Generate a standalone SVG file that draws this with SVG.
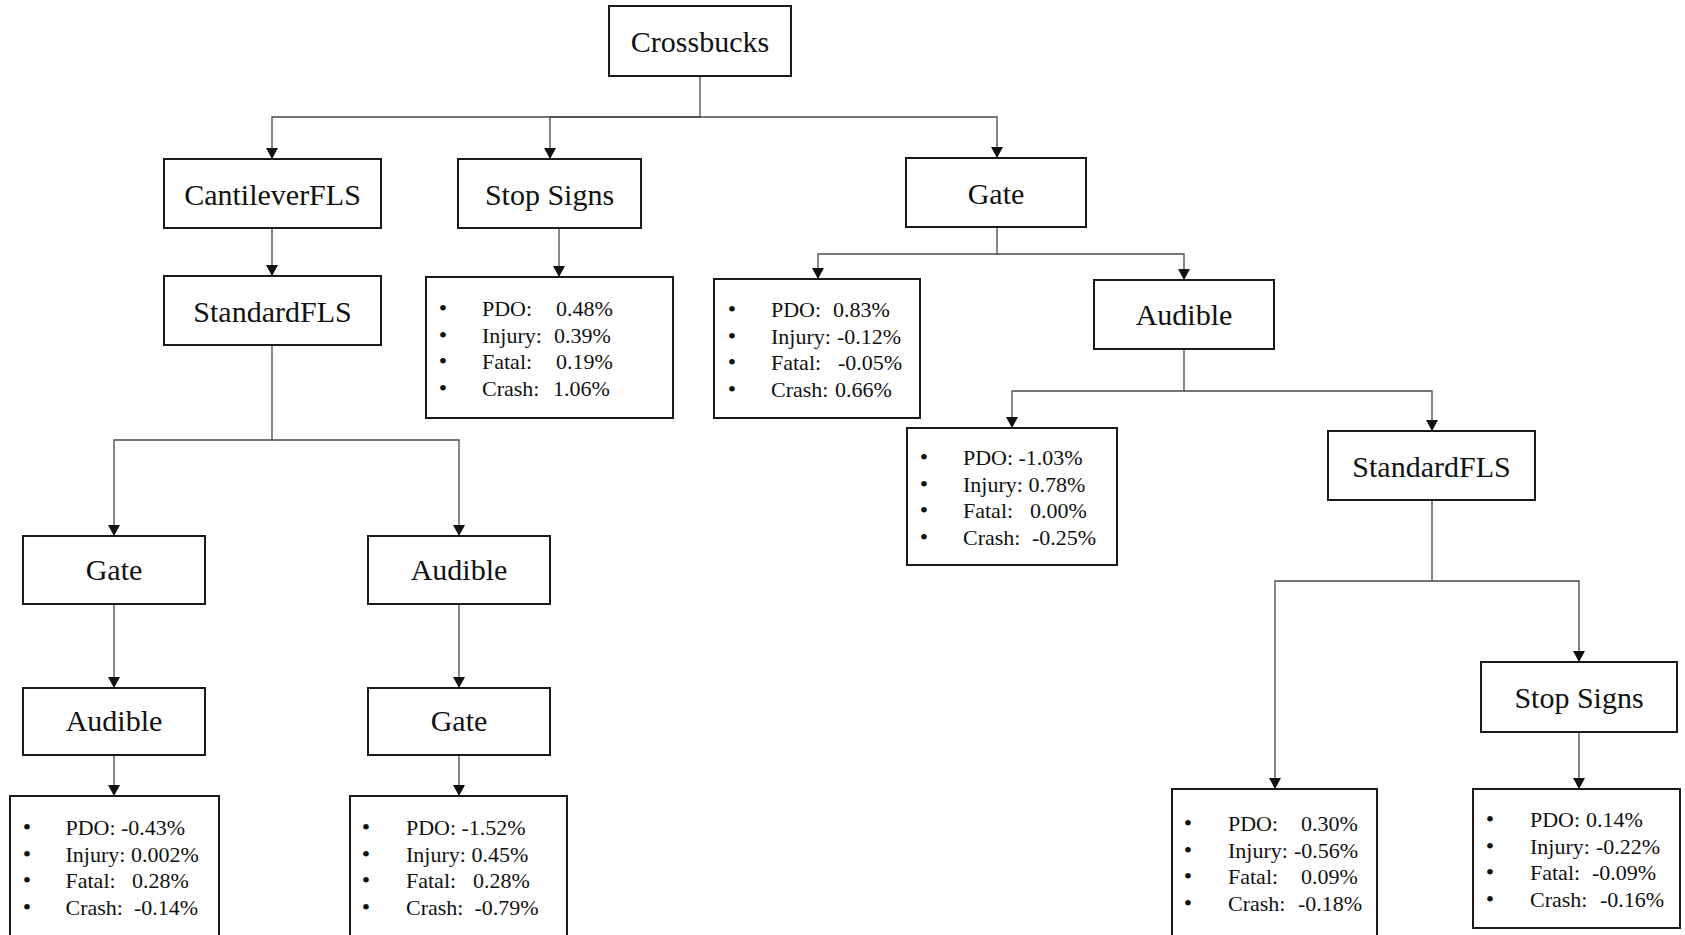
<svg xmlns="http://www.w3.org/2000/svg" width="1685" height="935" viewBox="0 0 1685 935">
<style>
.box{fill:#fff;stroke:#1a1a1a;stroke-width:2}
.lbl{font-family:'Liberation Serif','Times New Roman',serif;font-size:30px;text-anchor:middle;fill:#111}
.st{font-family:'Liberation Serif','Times New Roman',serif;font-size:22px;fill:#111}
.bul{font-family:'Liberation Serif','Times New Roman',serif;font-size:24px;text-anchor:middle;fill:#111}
.conn{fill:none;stroke:#4a4a4a;stroke-width:1.3}
</style>
<defs>
<marker id="arr" markerUnits="userSpaceOnUse" viewBox="0 0 11 12" refX="11" refY="6" markerWidth="11" markerHeight="12" orient="auto">
<path d="M0,0 L11,6 L0,12 Z" fill="#111"/>
</marker>
</defs>
<rect width="1685" height="935" fill="#fff"/>
<g id="connectors" class="conn" marker-end="url(#arr)">
<path d="M700,76 V117 H272 V159"/>
<path d="M700,117 H550 V159"/>
<path d="M700,117 H997 V158"/>
<path d="M272,228 V276"/>
<path d="M559,228 V277"/>
<path d="M997,227 V254 H818 V279"/>
<path d="M997,254 H1184 V280"/>
<path d="M1184,349 V391 H1012 V428"/>
<path d="M1184,391 H1432 V431"/>
<path d="M1432,500 V581 H1275 V789"/>
<path d="M1432,581 H1579 V662"/>
<path d="M1579,732 V789"/>
<path d="M272,345 V440 H114 V536"/>
<path d="M272,440 H459 V536"/>
<path d="M114,604 V688"/>
<path d="M459,604 V688"/>
<path d="M114,755 V796"/>
<path d="M459,755 V796"/>
</g>
<g id="crossbucks"><rect class="box" x="609" y="6" width="182" height="70"/><text class="lbl" x="700" y="52">Crossbucks</text></g>
<g id="cantilever"><rect class="box" x="164" y="159" width="217" height="69"/><text class="lbl" x="272.5" y="205">CantileverFLS</text></g>
<g id="stopsigns1"><rect class="box" x="458" y="159" width="183" height="69"/><text class="lbl" x="549.5" y="205">Stop Signs</text></g>
<g id="gate1"><rect class="box" x="906" y="158" width="180" height="69"/><text class="lbl" x="996" y="204">Gate</text></g>
<g id="standardfls1"><rect class="box" x="164" y="276" width="217" height="69"/><text class="lbl" x="272.5" y="322">StandardFLS</text></g>
<g id="audible1"><rect class="box" x="1094" y="280" width="180" height="69"/><text class="lbl" x="1184" y="325">Audible</text></g>
<g id="standardfls2"><rect class="box" x="1328" y="431" width="207" height="69"/><text class="lbl" x="1431.5" y="477">StandardFLS</text></g>
<g id="stopsigns2"><rect class="box" x="1481" y="662" width="196" height="70"/><text class="lbl" x="1579" y="708">Stop Signs</text></g>
<g id="gate2"><rect class="box" x="23" y="536" width="182" height="68"/><text class="lbl" x="114" y="580">Gate</text></g>
<g id="audible2"><rect class="box" x="368" y="536" width="182" height="68"/><text class="lbl" x="459" y="580">Audible</text></g>
<g id="audible3"><rect class="box" x="23" y="688" width="182" height="67"/><text class="lbl" x="114" y="731">Audible</text></g>
<g id="gate3"><rect class="box" x="368" y="688" width="182" height="67"/><text class="lbl" x="459" y="731">Gate</text></g>

<g id="stats-stopsigns1"><rect class="box" x="426" y="277" width="247" height="141"/>
<text class="bul" x="443" y="316">•</text><text class="bul" x="443" y="342.5">•</text><text class="bul" x="443" y="369">•</text><text class="bul" x="443" y="395.5">•</text>
<text class="st" x="482" y="316">PDO: <tspan x="556">0.48%</tspan></text>
<text class="st" x="482" y="342.5">Injury: <tspan x="554">0.39%</tspan></text>
<text class="st" x="482" y="369">Fatal: <tspan x="556">0.19%</tspan></text>
<text class="st" x="482" y="395.5">Crash: <tspan x="553">1.06%</tspan></text>
</g>
<g id="stats-gate1"><rect class="box" x="714" y="279" width="206" height="139"/>
<text class="bul" x="732" y="317">•</text><text class="bul" x="732" y="343.5">•</text><text class="bul" x="732" y="370">•</text><text class="bul" x="732" y="396.5">•</text>
<text class="st" x="771" y="317">PDO: <tspan x="833">0.83%</tspan></text>
<text class="st" x="771" y="343.5">Injury: <tspan x="837">-0.12%</tspan></text>
<text class="st" x="771" y="370">Fatal: <tspan x="838">-0.05%</tspan></text>
<text class="st" x="771" y="396.5">Crash: <tspan x="835">0.66%</tspan></text>
</g>
<g id="stats-audible1"><rect class="box" x="907" y="428" width="210" height="137"/>
<text class="bul" x="924" y="465">•</text><text class="bul" x="924" y="491.5">•</text><text class="bul" x="924" y="518">•</text><text class="bul" x="924" y="544.5">•</text>
<text class="st" x="963" y="465">PDO: <tspan x="1018.5">-1.03%</tspan></text>
<text class="st" x="963" y="491.5">Injury: <tspan x="1028.5">0.78%</tspan></text>
<text class="st" x="963" y="518">Fatal: <tspan x="1030">0.00%</tspan></text>
<text class="st" x="963" y="544.5">Crash: <tspan x="1032">-0.25%</tspan></text>
</g>
<g id="stats-left1"><rect class="box" x="10" y="796" width="209" height="150"/>
<text class="bul" x="27" y="835">•</text><text class="bul" x="27" y="861.5">•</text><text class="bul" x="27" y="888">•</text><text class="bul" x="27" y="914.5">•</text>
<text class="st" x="65.5" y="835">PDO: <tspan x="121">-0.43%</tspan></text>
<text class="st" x="65.5" y="861.5">Injury: <tspan x="131">0.002%</tspan></text>
<text class="st" x="65.5" y="888">Fatal: <tspan x="132">0.28%</tspan></text>
<text class="st" x="65.5" y="914.5">Crash: <tspan x="134">-0.14%</tspan></text>
</g>
<g id="stats-left2"><rect class="box" x="350" y="796" width="217" height="150"/>
<text class="bul" x="366" y="835">•</text><text class="bul" x="366" y="861.5">•</text><text class="bul" x="366" y="888">•</text><text class="bul" x="366" y="914.5">•</text>
<text class="st" x="406" y="835">PDO: <tspan x="461.5">-1.52%</tspan></text>
<text class="st" x="406" y="861.5">Injury: <tspan x="471.5">0.45%</tspan></text>
<text class="st" x="406" y="888">Fatal: <tspan x="473">0.28%</tspan></text>
<text class="st" x="406" y="914.5">Crash: <tspan x="474.5">-0.79%</tspan></text>
</g>
<g id="stats-right1"><rect class="box" x="1172" y="789" width="205" height="157"/>
<text class="bul" x="1188" y="831">•</text><text class="bul" x="1188" y="857.5">•</text><text class="bul" x="1188" y="884">•</text><text class="bul" x="1188" y="910.5">•</text>
<text class="st" x="1228" y="831">PDO: <tspan x="1301">0.30%</tspan></text>
<text class="st" x="1228" y="857.5">Injury: <tspan x="1294">-0.56%</tspan></text>
<text class="st" x="1228" y="884">Fatal: <tspan x="1301">0.09%</tspan></text>
<text class="st" x="1228" y="910.5">Crash: <tspan x="1298">-0.18%</tspan></text>
</g>
<g id="stats-right2"><rect class="box" x="1473" y="789" width="207" height="139"/>
<text class="bul" x="1490" y="827">•</text><text class="bul" x="1490" y="853.5">•</text><text class="bul" x="1490" y="880">•</text><text class="bul" x="1490" y="906.5">•</text>
<text class="st" x="1530" y="827">PDO: <tspan x="1586">0.14%</tspan></text>
<text class="st" x="1530" y="853.5">Injury: <tspan x="1596">-0.22%</tspan></text>
<text class="st" x="1530" y="880">Fatal: <tspan x="1592">-0.09%</tspan></text>
<text class="st" x="1530" y="906.5">Crash: <tspan x="1600">-0.16%</tspan></text>
</g>
</svg>
